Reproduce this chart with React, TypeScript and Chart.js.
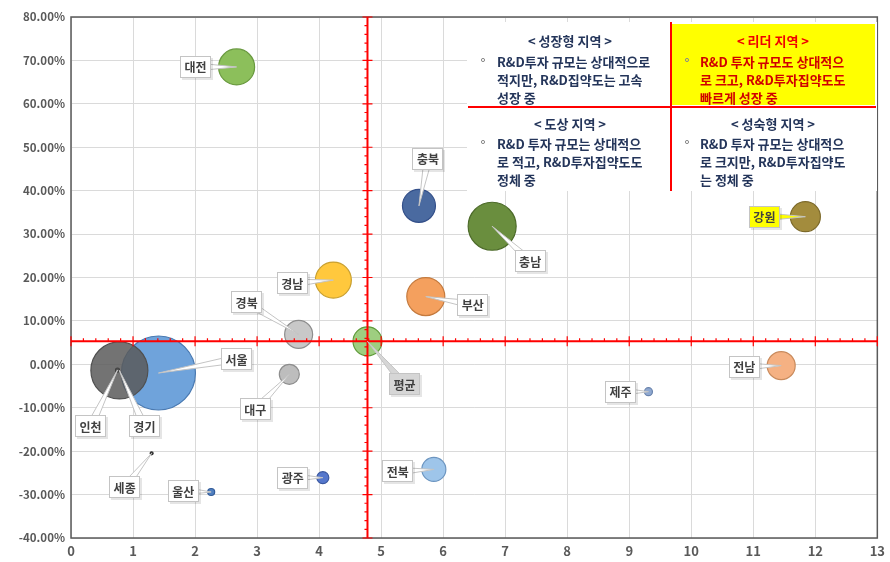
import React, { useEffect, useRef } from 'react';
import { Chart, registerables } from 'chart.js';

Chart.register(...registerables);

// ---- data -------------------------------------------------------------
// 지역별 R&D 투자 규모(x), R&D 투자집약도 증가율(y, %), 버블 크기(r)
const regions = ['서울', '경기', '인천', '대전', '충북', '충남', '강원', '경남', '부산', '경북', '평균', '대구', '세종', '울산', '광주', '전북', '제주', '전남'];
const investScale = [1.41, 0.78, 0.75, 2.67, 5.61, 6.79, 11.84, 4.23, 5.72, 3.67, 4.78, 3.52, 1.30, 2.26, 4.06, 5.85, 9.31, 11.45];
const intensityGrowth = [-2.0, -1.4, -1.3, 68.5, 36.5, 31.8, 34.0, 19.4, 15.6, 6.9, 5.3, -2.3, -20.5, -29.4, -26.1, -24.2, -6.3, -0.3];
const bubbleSize = [37, 28.5, 2, 18, 16.5, 24, 15, 18, 19, 14, 14.5, 10, 1.5, 3.5, 6, 12, 4, 14];

const xTickValues = [0, 1, 2, 3, 4, 5, 6, 7, 8, 9, 10, 11, 12, 13];
const yTickValues = [-40, -30, -20, -10, 0, 10, 20, 30, 40, 50, 60, 70, 80];

const quadrantTitles = ['< 성장형 지역 >', '< 리더 지역 >', '< 도상 지역 >', '< 성숙형 지역 >'];
const quadrantLines = [
  ['R&D투자 규모는 상대적으로', '적지만, R&D집약도는 고속', '성장 중'],
  ['R&D 투자 규모도 상대적으', '로 크고, R&D투자집약도도', '빠르게 성장 중'],
  ['R&D 투자 규모는 상대적으', '로 적고, R&D투자집약도도', '정체 중'],
  ['R&D 투자 규모는 상대적으', '로 크지만, R&D투자집약도', '는 정체 중'],
];

// ---- styles -----------------------------------------------------------
const fillColors = [
  '#6FA3DB', 'rgba(90,90,90,0.85)', '#555555', '#8CBF5B', '#4A6AA0', '#6A8E3E',
  '#A38C3D', '#FFC83D', '#F4A05E', '#C8C8C8', 'rgba(125,190,85,0.75)', '#BDBDBD',
  '#444444', '#4F7FC0', '#5577CC', '#9EC5EA', '#8FA8D0', '#F5B183',
];
const borderColors = [
  '#4A7AB2', '#505050', '#404040', '#6A9A40', '#34508A', '#4D6B2A',
  '#7D6A2A', '#C9A030', '#C47A3E', '#8E8E8E', '#5F9A3A', '#8E8E8E',
  '#333333', '#335C99', '#3A58A0', '#6C95C0', '#6A84AD', '#C98B5D',
];
// callout label centre, offset from the bubble centre in pixels
const calloutOffsets: [number, number][] = [
  [78, -14], [25, 56], [-27, 56], [-41, 0], [9, -47], [38, 35],
  [-41, 0], [-41, 3], [47, 8], [-52, -32], [37, 43], [-34, 35],
  [-27, 34], [-28, -1], [-30, 0], [-36, 2], [-28, 0], [-37, 1],
];
const calloutFill: Record<string, string> = { '강원': '#FFFF00', '평균': '#D6D6D6' };

const FONT = '"Noto Sans CJK KR", "Noto Sans", sans-serif';

function drawCallout(ctx: CanvasRenderingContext2D, px: number, py: number, cx: number, cy: number, text: string, bg: string) {
  ctx.font = `bold 12px ${FONT}`;
  const tw = ctx.measureText(text).width;
  const w = Math.round(tw + 9);
  const h = 22;
  const left = Math.round(cx - w / 2);
  const top = Math.round(cy - h / 2);

  // pointer wedge towards the bubble centre
  const dx = px - cx;
  const dy = py - cy;
  const len = Math.hypot(dx, dy) || 1;
  const nx = -dy / len;
  const ny = dx / len;
  const base = 4;
  ctx.beginPath();
  ctx.moveTo(cx + nx * base, cy + ny * base);
  ctx.lineTo(px, py);
  ctx.lineTo(cx - nx * base, cy - ny * base);
  ctx.closePath();
  ctx.fillStyle = bg;
  ctx.fill();
  ctx.strokeStyle = '#C4C4C4';
  ctx.lineWidth = 1;
  ctx.stroke();

  // box with a soft shadow
  ctx.fillStyle = 'rgba(0,0,0,0.10)';
  ctx.fillRect(left + 2, top + 2, w, h);
  ctx.fillStyle = bg;
  ctx.fillRect(left, top, w, h);
  ctx.strokeStyle = '#C4C4C4';
  ctx.strokeRect(left + 0.5, top + 0.5, w - 1, h - 1);

  ctx.fillStyle = '#404040';
  ctx.textAlign = 'center';
  ctx.textBaseline = 'middle';
  ctx.fillText(text, cx, cy + 1);
}

const frameAndCrosshair = {
  id: 'frameAndCrosshair',
  afterDatasetsDraw(chart: any) {
    const { ctx, chartArea: a, scales } = chart;
    const xs = scales.x;
    const ys = scales.y;
    ctx.save();

    // plot-area frame
    ctx.strokeStyle = '#5A5A5A';
    ctx.lineWidth = 1.5;
    ctx.strokeRect(a.left, a.top, a.right - a.left, a.bottom - a.top);

    // red cross axes through the average point
    const iAvg = regions.indexOf('평균');
    const px = xs.getPixelForValue(investScale[iAvg]);
    const py = ys.getPixelForValue(intensityGrowth[iAvg]);
    ctx.strokeStyle = '#FF0000';
    ctx.lineWidth = 2;
    ctx.beginPath();
    ctx.moveTo(a.left, py);
    ctx.lineTo(a.right, py);
    ctx.moveTo(px, a.top);
    ctx.lineTo(px, a.bottom);
    ctx.stroke();

    ctx.lineWidth = 1.2;
    ctx.beginPath();
    for (let k = 0; k <= 65; k++) {
      const v = k * 0.2;
      const tx = xs.getPixelForValue(v);
      const major = k % 5 === 0;
      ctx.moveTo(tx, py - (major ? 5 : 3));
      ctx.lineTo(tx, py + (major ? 5 : 0));
    }
    for (let k = 0; k <= 60; k++) {
      const v = -40 + k * 2;
      const ty = ys.getPixelForValue(v);
      const major = k % 5 === 0;
      ctx.moveTo(px - (major ? 5 : 3), ty);
      ctx.lineTo(px + (major ? 5 : 0), ty);
    }
    ctx.stroke();
    ctx.restore();
  },
};

const calloutPlugin = {
  id: 'callouts',
  afterDraw(chart: any) {
    const { ctx } = chart;
    const meta = chart.getDatasetMeta(0);
    ctx.save();
    regions.forEach((name, i) => {
      const el = meta.data[i];
      if (!el) return;
      const [ox, oy] = calloutOffsets[i];
      drawCallout(ctx, el.x, el.y, el.x + ox, el.y + oy, name, calloutFill[name] || '#FFFFFF');
    });
    ctx.restore();
  },
};

const quadrantPlugin = {
  id: 'quadrantNote',
  afterDraw(chart: any) {
    const { ctx } = chart;
    const box = { left: 467, top: 22, right: 877, bottom: 191, midX: 671, midY: 107 };
    ctx.save();
    ctx.fillStyle = '#FFFFFF';
    ctx.fillRect(box.left, box.top, box.right - box.left, box.bottom - box.top);
    ctx.fillStyle = '#FFFF00';
    ctx.fillRect(box.midX + 1, box.top + 2, box.right - 2 - box.midX - 1, box.midY - 2 - box.top - 2);

    ctx.strokeStyle = '#FF0000';
    ctx.lineWidth = 2;
    ctx.beginPath();
    ctx.moveTo(box.midX, box.top);
    ctx.lineTo(box.midX, box.bottom);
    ctx.moveTo(box.left + 1, box.midY);
    ctx.lineTo(box.right - 1, box.midY);
    ctx.stroke();

    const cols = [
      { title: 570, bullet: 483, text: 497 },
      { title: 773, bullet: 687, text: 700 },
    ];
    const rows = [
      { title: 41, lines: [62, 80, 98] },
      { title: 124, lines: [144, 162, 180] },
    ];
    quadrantTitles.forEach((title, q) => {
      const col = cols[q % 2];
      const row = rows[Math.floor(q / 2)];
      const leader = q === 1;
      ctx.font = `bold 13px ${FONT}`;
      ctx.textBaseline = 'middle';
      ctx.textAlign = 'center';
      ctx.fillStyle = leader ? '#F00000' : '#24355A';
      ctx.fillText(title, col.title, row.title);

      ctx.strokeStyle = '#8A8A8A';
      ctx.lineWidth = 1;
      ctx.beginPath();
      ctx.arc(col.bullet, row.lines[0] - 2, 1.6, 0, Math.PI * 2);
      ctx.stroke();

      ctx.textAlign = 'left';
      ctx.fillStyle = leader ? '#D00000' : '#24355A';
      quadrantLines[q].forEach((line, li) => {
        ctx.fillText(line, col.text, row.lines[li]);
      });
    });
    ctx.restore();
  },
};

export default function App() {
  const canvasRef = useRef<HTMLCanvasElement | null>(null);

  useEffect(() => {
    const canvas = canvasRef.current;
    if (!canvas) return;
    const chart = new Chart(canvas, {
      type: 'bubble',
      data: {
        datasets: [
          {
            label: 'R&D',
            data: regions.map((_, i) => ({ x: investScale[i], y: intensityGrowth[i], r: bubbleSize[i] })),
            backgroundColor: fillColors,
            borderColor: borderColors,
            borderWidth: 1.2,
          },
        ],
      },
      options: {
        responsive: false,
        animation: false,
        events: [],
        layout: { autoPadding: false, padding: { top: 17, right: 10, left: 0, bottom: 0 } },
        plugins: { legend: { display: false }, tooltip: { enabled: false } },
        scales: {
          x: {
            type: 'linear',
            min: 0,
            max: 13,
            afterFit: (s: any) => { s.height = 24; },
            afterBuildTicks: (s: any) => { s.ticks = xTickValues.map((v) => ({ value: v })); },
            grid: { color: '#DADADA', lineWidth: 1, drawTicks: false },
            border: { display: false },
            ticks: {
              padding: 5,
              color: '#595959',
              font: { family: FONT, size: 13, weight: 'bold' },
              callback: (v: any) => String(v),
            },
          },
          y: {
            type: 'linear',
            min: -40,
            max: 80,
            afterFit: (s: any) => { s.width = 71; },
            afterBuildTicks: (s: any) => { s.ticks = yTickValues.map((v) => ({ value: v })); },
            grid: { color: '#DADADA', lineWidth: 1, drawTicks: false },
            border: { display: false },
            ticks: {
              padding: 6,
              color: '#595959',
              font: { family: FONT, size: 11.5, weight: 'bold' },
              callback: (v: any) => `${Number(v).toFixed(2)}%`,
            },
          },
        },
      },
      plugins: [frameAndCrosshair, calloutPlugin, quadrantPlugin],
    });
    return () => chart.destroy();
  }, []);

  return (
    <div style={{ position: 'fixed', left: 0, top: 0, width: 890, height: 562, background: '#FFFFFF' }}>
      <canvas ref={canvasRef} width={890} height={562} style={{ display: 'block' }} />
    </div>
  );
}
